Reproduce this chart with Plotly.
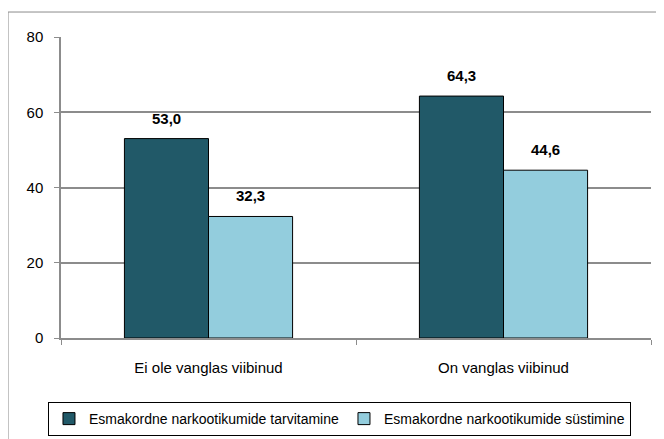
import plotly.graph_objects as go

categories = ["Ei ole vanglas viibinud", "On vanglas viibinud"]
series_names = ["Esmakordne narkootikumide tarvitamine", "Esmakordne narkootikumide süstimine"]
values_first_use = [53.0, 64.3]
values_injection = [32.3, 44.6]
series_colors = ["#215968", "#93CDDD"]
y_ticks = [0, 20, 40, 60, 80]

FONT = "Liberation Sans, Arial, sans-serif"

fig = go.Figure()
for name, vals, col in zip(series_names, [values_first_use, values_injection], series_colors):
    fig.add_trace(go.Bar(
        x=categories, y=vals, name=name,
        marker=dict(color=col, line=dict(color="#000000", width=1)),
    ))

# data labels
bar_px = 84
for i, vals in enumerate([values_first_use, values_injection]):
    shift = -bar_px / 2 if i == 0 else bar_px / 2
    for c, v in zip(categories, vals):
        fig.add_annotation(
            x=c, y=v, xref="x", yref="y", xshift=shift, yshift=10,
            yanchor="bottom", showarrow=False,
            text="<b>" + f"{v:.1f}".replace(".", ",") + "</b>",
            font=dict(family=FONT, size=15, color="#000000"),
        )

# outer chart frame
fig.add_shape(type="rect", xref="paper", yref="paper",
              x0=-0.0898, x1=1.05, y0=-0.40, y1=1.083,
              line=dict(color="#8C8C8C", width=1), layer="below")

fig.update_layout(
    width=656, height=431,
    margin=dict(l=53, r=13, t=29, b=101),
    paper_bgcolor="white", plot_bgcolor="white",
    barmode="group", bargap=0.43, bargroupgap=0,
    separators=",.",
    font=dict(family=FONT, size=15, color="#000000"),
    showlegend=True,
    legend=dict(
        orientation="h", x=0.472, xanchor="center",
        yref="container", y=0.0858, yanchor="top",
        bordercolor="#000000", borderwidth=1,
        font=dict(family=FONT, size=14, color="#000000"),
        itemwidth=30, traceorder="normal",
    ),
    xaxis=dict(
        showline=True, linecolor="#8C8C8C", linewidth=1.5,
        ticks="outside", tickson="boundaries", ticklen=5, tickcolor="#8C8C8C",
        ticklabelstandoff=15, tickfont=dict(size=15),
    ),
    yaxis=dict(
        range=[0, 80], tickvals=y_ticks, ticktext=[str(t) for t in y_ticks],
        showgrid=True, gridcolor="#8C8C8C", gridwidth=1.5,
        showline=True, linecolor="#8C8C8C", linewidth=1.5,
        ticks="outside", ticklen=5, tickcolor="#8C8C8C",
        ticklabelstandoff=8,
        zeroline=False, tickfont=dict(size=15),
    ),
)

fig.write_html("out.html")
